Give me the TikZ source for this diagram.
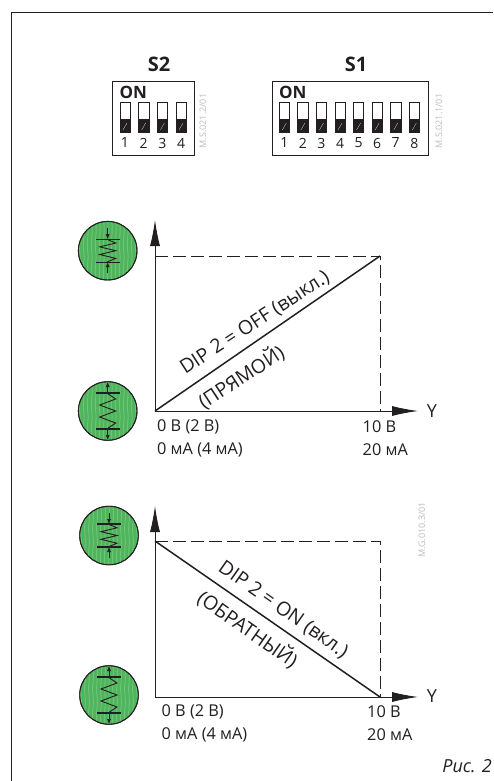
\documentclass[tikz,border=0pt]{standalone}
\usepackage{fontspec}
\setmainfont{Open Sans}
\usetikzlibrary{arrows.meta,positioning}
\definecolor{springgreen}{HTML}{4FB45C}
\definecolor{stripegreen}{HTML}{6BC477}
\definecolor{codegrey}{HTML}{BDBDBD}
\definecolor{inkgrey}{HTML}{231F20}

\tikzset{
axisline/.style={draw=inkgrey,line width=0.9pt,-{Latex[length=26pt,width=10pt]}},
dashline/.style={draw=inkgrey,line width=0.8pt,dash pattern=on 13pt off 5pt},
curveline/.style={draw=inkgrey,line width=1.5pt},
tiplabel/.style={inner sep=0,font=\fontsize{16.3}{16}\selectfont,text=inkgrey},
slantlabel/.style={inner sep=0,font=\fontsize{19.5}{20}\selectfont,text=inkgrey},
boxlabel/.style={inner sep=0,font=\fontsize{20}{20}\selectfont\bfseries,text=inkgrey},
onlabel/.style={inner sep=0,anchor=west,font=\fontsize{17}{17}\selectfont\bfseries,text=inkgrey},
diplabel/.style={inner sep=0,font=\fontsize{14}{14}\selectfont,text=inkgrey},
codelabel/.style={inner sep=0,rotate=90,font=\fontsize{9}{9}\selectfont,text=codegrey},
dipbox/.style={draw=inkgrey,line width=0.9pt,fill=white},
bead/.style={circle,draw=inkgrey,line width=0.9pt,minimum size=58.6pt,inner sep=0},
}

% one dip switch lever, #1 = x, #2 = number
\newcommand{\diplever}[2]{
  \draw[inkgrey,line width=0.6pt] (#1-5.2,102.3) rectangle (#1+5.2,132.7);
  \fill[inkgrey] (#1-5.2,119) rectangle (#1+5.2,132.7);
  \draw[white,line width=0.2pt] (#1-2,130) -- (#1+2,123);
  \node[diplabel] (n#2) at (#1,143) {#2};
}

% green circle with spring, #1 = name, #2 = x, #3 = y, #4 = half height of spring, #5 = arrow tips
\newcommand{\springbead}[5]{
  \node[bead,fill=springgreen] (#1) at (#2,#3) {};
  \begin{scope}
    \clip (#2,#3) circle (28.8);
    \foreach \i in {-28,-24,...,28}
      \draw[stripegreen,line width=1pt] (#2+\i,#3-30) .. controls (#2+\i+1.5,#3-15) and (#2+\i-1.5,#3-8) .. (#2+\i,#3) .. controls (#2+\i+1.5,#3+8) and (#2+\i-1.5,#3+15) .. (#2+\i,#3+30);
  \end{scope}
  \node[bead] at (#2,#3) {};
  \draw[inkgrey,line width=1.3pt] (#2-12,#3-#4) -- (#2+12,#3-#4);
  \draw[inkgrey,line width=1.3pt] (#2-12,#3+#4) -- (#2+12,#3+#4);
  \draw[inkgrey,line width=0.9pt] (#2-1,#3-#4) -- (#2+8,#3-2*#4/3) -- (#2-8,#3-#4/3) -- (#2+8,#3) -- (#2-8,#3+#4/3) -- (#2+8,#3+2*#4/3) -- (#2-1,#3+#4);
  \draw[inkgrey,line width=0.6pt,#5] (#2,#3-#4-11) -- (#2,#3-#4);
  \draw[inkgrey,line width=0.6pt,#5] (#2,#3+#4+11) -- (#2,#3+#4);
}

\begin{document}
\begin{tikzpicture}[x=1pt,y=-1pt]
\useasboundingbox (0,0) rectangle (493,781);
\fill[white] (0,0) rectangle (493,781);

% page frame
\draw[inkgrey,line width=1pt] (11,781) -- (11,12.5) -- (493,12.5);

% dip switches
\node[boxlabel] (S2) at (159,64) {S2};
\draw[dipbox] (112,81) rectangle (194,155);
\node[onlabel] (on2) at (119.5,92) {ON};
\foreach \n in {1,...,4}{
  \pgfmathsetmacro{\xpos}{125+18.67*(\n-1)}
  \diplever{\xpos}{\n}
}
\node[codelabel] (code2) at (203,121) {M.S.021.2/01};

\node[boxlabel] (S1) at (356,64) {S1};
\draw[dipbox] (272,81) rectangle (428,155);
\node[onlabel] (on1) at (279,92) {ON};
\foreach \n in {1,...,8}{
  \pgfmathsetmacro{\xpos}{284.3+18.57*(\n-1)}
  \diplever{\xpos}{\n}
}
\node[codelabel] (code1) at (439,121) {M.S.021.1/01};

% direct chart
\coordinate (a0) at (155,411);
\coordinate (a1) at (155,256);
\coordinate (a2) at (380,256);
\coordinate (a3) at (380,411);
\coordinate (aup) at (155,220);
\coordinate (aright) at (418,411);
\draw[axisline] (a0) -- (aup);
\draw[axisline] (a0) -- (aright);
\draw[dashline] (a1) -- (a2) -- (a3);
\draw[curveline] (a0) -- (a2);
\node[slantlabel,rotate=33] (lab1) at (255,323) {DIP 2 = OFF (выкл.)};
\node[slantlabel,rotate=33] (lab2) at (241,377) {(ПРЯМОЙ)};
\node[tiplabel,font=\fontsize{18}{18}\selectfont] (y1) at (432,411) {Y};
\node[tiplabel,anchor=west] (t1) at (157,427) {0 В (2 В)};
\node[tiplabel,anchor=west] (t2) at (157,450) {0 мА (4 мА)};
\node[tiplabel,anchor=west] (t3) at (362.5,427) {10 В};
\node[tiplabel,anchor=west] (t4) at (362.5,450) {20 мА};

% reverse chart
\coordinate (b0) at (155,697);
\coordinate (b1) at (155,541);
\coordinate (b2) at (380,541);
\coordinate (b3) at (380,697);
\coordinate (bup) at (155,506);
\coordinate (bright) at (418,697);
\draw[axisline] (b0) -- (bup);
\draw[axisline] (b0) -- (bright);
\draw[dashline] (b1) -- (b2) -- (b3);
\draw[curveline] (b1) -- (b3);
\node[slantlabel,rotate=-35] (lab3) at (283,610) {DIP 2 = ON (вкл.)};
\node[slantlabel,rotate=-35] (lab4) at (248,629) {(ОБРАТНЫЙ)};
\node[tiplabel,font=\fontsize{18}{18}\selectfont] (y2) at (432,696) {Y};
\node[tiplabel,anchor=west] (t5) at (161.5,712) {0 В (2 В)};
\node[tiplabel,anchor=west] (t6) at (161.5,735) {0 мА (4 мА)};
\node[tiplabel,anchor=west] (t7) at (367,712) {10 В};
\node[tiplabel,anchor=west] (t8) at (367,735) {20 мА};
\node[codelabel] (code3) at (422,530) {M.G.010.3/01};

% springs
\springbead{b1top}{107.7}{250.7}{11.5}{-{Latex[length=5pt,width=4pt]}}
\springbead{b1bot}{107.7}{411}{18}{{Latex[length=5pt,width=4pt]}-}
\springbead{b2top}{109}{535.5}{11.5}{-{Latex[length=5pt,width=4pt]}}
\springbead{b2bot}{109}{695}{18}{{Latex[length=5pt,width=4pt]}-}

\node[inner sep=0,font=\fontsize{18}{18}\selectfont\itshape,text=inkgrey,anchor=east] (fig) at (492,766) {Рис. 2};
\end{tikzpicture}
\end{document}
